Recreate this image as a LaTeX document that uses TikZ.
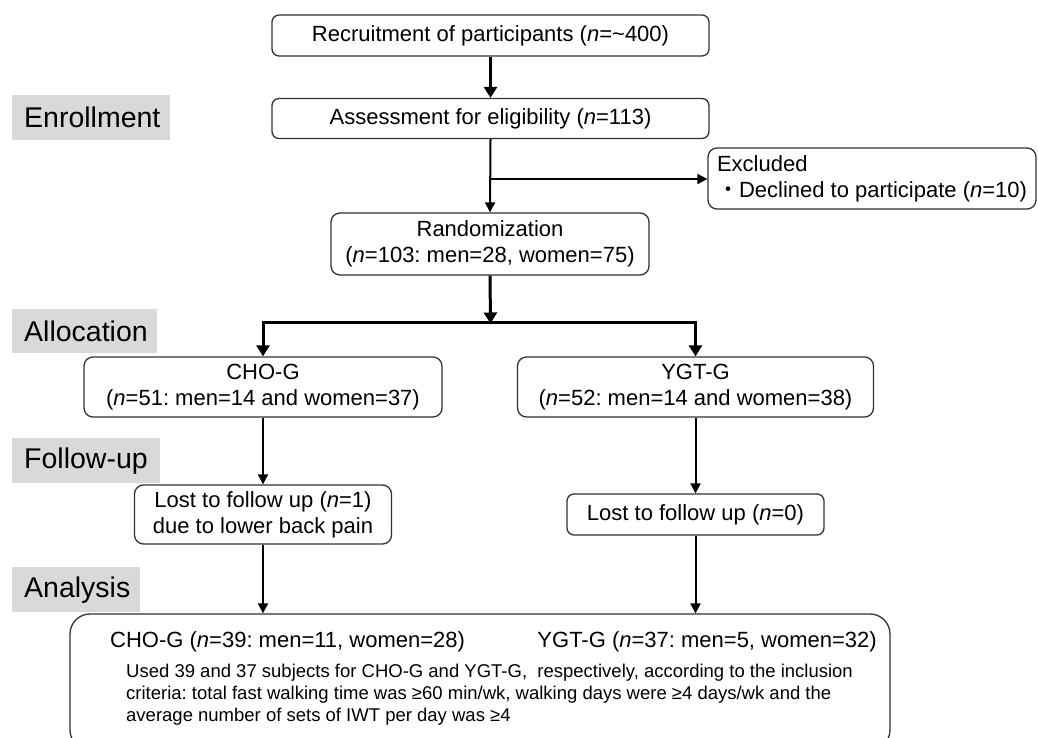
\documentclass[tikz,border=0pt]{standalone}
\usepackage{fontspec}
\setmainfont{Liberation Sans}
\newfontfamily\cjk{Noto Sans CJK JP}
\usetikzlibrary{arrows.meta}
\frenchspacing
\newcommand\mf{\fontsize{22}{25}\selectfont}
\newcommand\lf{\fontsize{28.5}{30}\selectfont}
\newcommand\smf{\fontsize{18.5}{22}\selectfont}
\tikzset{
  box/.style={draw=black!80, line width=1.3pt, rounded corners=7pt, fill=white, align=center, font=\mf, inner sep=0pt},
  lab/.style={anchor=north west, fill=black!15, inner xsep=12pt, inner ysep=0pt, minimum height=45pt, align=left, font=\lf},
  bigarr/.style={line width=3pt, -{Triangle[length=11pt,width=13pt]}},
  smallarr/.style={line width=2pt, -{Triangle[length=10pt,width=10pt]}},
}
\begin{document}
\begin{tikzpicture}[x=1pt,y=-1pt]
\useasboundingbox (0,0) rectangle (1038,738);
% stage labels
\node[lab, text width=134pt] (enr) at (12,95) {\mbox{Enrollment}};
\node[lab, text width=121pt, minimum height=44pt] (alo) at (12,309) {\mbox{Allocation}};
\node[lab, text width=124pt] (fol) at (12,438) {\mbox{Follow-up}};
\node[lab, text width=104pt] (ana) at (12,567) {\mbox{Analysis}};
% boxes
\node[box, minimum width=437pt, minimum height=41pt] (rec) at (490.5,35.5) {Recruitment of participants (\textit{n}=\textasciitilde400)};
\node[box, minimum width=437pt, minimum height=40pt] (ass) at (490.5,118.5) {Assessment for eligibility (\textit{n}=113)};
\node[box, minimum width=328pt, minimum height=61pt, align=left, rounded corners=9pt] (exc) at (872,178.5) {Excluded\\[1pt]{\cjk ・}Declined to participate (\textit{n}=10)};
\node[box, minimum width=318pt, minimum height=62pt, rounded corners=9pt] (rand) at (490,244) {Randomization\\[1pt](\textit{n}=103: men=28, women=75)};
\node[box, minimum width=358pt, minimum height=60pt, rounded corners=9pt] (cho) at (263,387) {CHO-G\\[1pt](\textit{n}=51: men=14 and women=37)};
\node[box, minimum width=356pt, minimum height=60pt, rounded corners=9pt] (ygt) at (695.5,387) {YGT-G\\[1pt](\textit{n}=52: men=14 and women=38)};
\node[box, minimum width=257pt, minimum height=59pt, rounded corners=9pt] (lost1) at (263,514.5) {Lost to follow up (\textit{n}=1)\\[1pt]due to lower back pain};
\node[box, minimum width=257pt, minimum height=41pt] (lost2) at (695.5,514.5) {Lost to follow up (\textit{n}=0)};
\node[box, minimum width=820pt, minimum height=136pt, rounded corners=20pt] (fin) at (480,682) {};
\node[font=\mf, anchor=west, inner sep=0pt] (finc) at (110,642) {CHO-G (\textit{n}=39: men=11, women=28)};
\node[font=\mf, anchor=east, inner sep=0pt] (finy) at (877,642) {YGT-G (\textit{n}=37: men=5, women=32)};
\node[font=\smf, anchor=west, align=left, inner sep=0pt] (fint) at (126,695) {Used 39 and 37 subjects for CHO-G and YGT-G,\ \ respectively, according to the inclusion\\criteria: total fast walking time was ≥60 min/wk, walking days were ≥4 days/wk and the\\average number of sets of IWT per day was ≥4};
% connectors
\coordinate (br) at (490.5,179);
\coordinate (split) at (490.5,322);
\draw[bigarr] (rec.south) -- (ass.north);
\draw[smallarr] (ass.south) -- (rand.north);
\draw[smallarr] (br) -- (exc.west |- br);
\draw[bigarr] (rand.south) -- ([yshift=-1.5pt]split);
\draw[bigarr] (split) -| (cho.north);
\draw[bigarr] (split) -| (ygt.north);
\draw[smallarr] (cho.south) -- (lost1.north);
\draw[smallarr] (ygt.south) -- (lost2.north);
\draw[smallarr] (lost1.south) -- (lost1.south |- fin.north);
\draw[smallarr] (lost2.south) -- (lost2.south |- fin.north);
\end{tikzpicture}
\end{document}
